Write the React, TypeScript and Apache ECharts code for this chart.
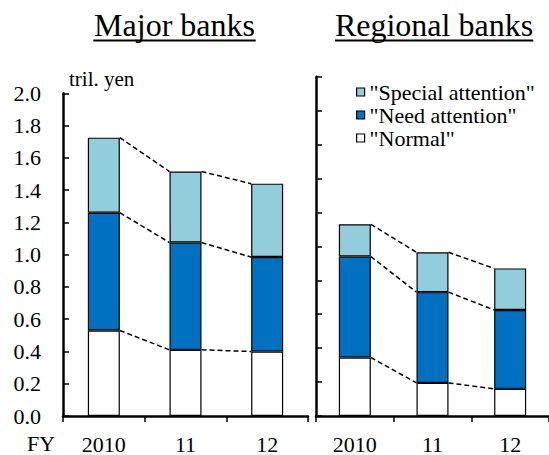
import React, { useEffect, useRef } from "react";
import * as echarts from "echarts";

const categories = ["2010", "11", "12"];
const majorNormal = [0.53, 0.41, 0.4];
const majorNeed = [0.73, 0.665, 0.585];
const majorSpecial = [0.465, 0.44, 0.455];
const regionalNormal = [0.345, 0.195, 0.16];
const regionalNeed = [0.595, 0.535, 0.465];
const regionalSpecial = [0.19, 0.235, 0.245];
const seriesNames = ['"Normal"', '"Need attention"', '"Special attention"'];
const legendOrder = ['"Special attention"', '"Need attention"', '"Normal"'];
const colors = ["#ffffff", "#0070c0", "#92cddc"];

const SERIF = "Liberation Serif";
const BAR_W = 32;

function cumulative(parts: number[][]): number[][] {
  const out: number[][] = [];
  let acc = parts[0].map(() => 0);
  for (const p of parts) {
    acc = acc.map((a, i) => a + p[i]);
    out.push(acc.slice());
  }
  return out;
}

function dashSeries(levels: number[], idx: number) {
  const data = levels.slice(0, -1).map((v, i) => [i, v, levels[i + 1]]);
  return {
    type: "custom",
    name: "conn",
    xAxisIndex: idx,
    yAxisIndex: idx,
    silent: true,
    z: 5,
    encode: { x: 0, y: 1 },
    data,
    renderItem: (params: any, api: any) => {
      const i = api.value(0);
      const p1 = api.coord([i, api.value(1)]);
      const p2 = api.coord([i + 1, api.value(2)]);
      return {
        type: "line",
        shape: { x1: p1[0] + BAR_W / 2, y1: p1[1], x2: p2[0] - BAR_W / 2, y2: p2[1] },
        style: { stroke: "#000", lineWidth: 1.5, lineDash: [5, 3] },
      };
    },
  };
}

function txt(text: string, x: number, y: number, size: number, align: string, lineHeight?: number) {
  return {
    type: "text",
    x,
    y,
    style: {
      text,
      fontFamily: SERIF,
      fontSize: size,
      lineHeight: lineHeight ?? size,
      fill: "#000",
      textAlign: align,
      textVerticalAlign: "middle",
    },
  };
}

export default function App() {
  const ref = useRef<HTMLDivElement>(null);
  useEffect(() => {
    if (!ref.current) return;
    const chart = echarts.init(ref.current, undefined, { renderer: "svg" });
    const majorParts = [majorNormal, majorNeed, majorSpecial];
    const regionalParts = [regionalNormal, regionalNeed, regionalSpecial];
    const majorCum = cumulative(majorParts);
    const regionalCum = cumulative(regionalParts);

    const xAxisBase = {
      type: "category",
      data: categories,
      boundaryGap: true,
      axisLine: { lineStyle: { color: "#000", width: 2.5 } },
      axisTick: { show: true, inside: false, length: 6, lineStyle: { color: "#000", width: 1.5 } },
      axisLabel: { color: "#000", fontFamily: SERIF, fontSize: 22, lineHeight: 16, margin: 20 },
      splitLine: { show: false },
    };
    const yAxisBase = {
      type: "value",
      min: 0,
      max: 2,
      interval: 0.2,
      axisLine: { show: true, lineStyle: { color: "#000", width: 2.5 } },
      axisTick: { show: true, inside: true, length: 6, lineStyle: { color: "#000", width: 1.5 } },
      splitLine: { show: false },
    };

    const barSeries: any[] = [];
    [majorParts, regionalParts].forEach((parts, gi) => {
      parts.forEach((vals, si) => {
        barSeries.push({
          type: "bar",
          name: seriesNames[si],
          stack: gi === 0 ? "major" : "regional",
          xAxisIndex: gi,
          yAxisIndex: gi,
          barWidth: BAR_W,
          data: vals,
          itemStyle: { color: colors[si], borderColor: "#000", borderWidth: 1.2 },
        });
      });
    });

    const option: any = {
      animation: false,
      backgroundColor: "#fff",
      textStyle: { fontFamily: SERIF },
      grid: [
        { left: 63, top: 93.3, width: 245, height: 325.2 },
        { left: 316, top: 76.7, width: 241.5, height: 341.8 },
      ],
      xAxis: [
        { ...xAxisBase, gridIndex: 0 },
        { ...xAxisBase, gridIndex: 1 },
      ],
      yAxis: [
        {
          ...yAxisBase,
          gridIndex: 0,
          axisLabel: {
            color: "#000",
            fontFamily: SERIF,
            fontSize: 22,
            margin: 22,
            formatter: (v: number) => v.toFixed(1),
          },
        },
        { ...yAxisBase, gridIndex: 1, axisLabel: { show: false } },
      ],
      legend: {
        data: legendOrder,
        orient: "vertical",
        left: 351,
        top: 76,
        itemWidth: 8,
        itemHeight: 8,
        itemGap: 1,
        icon: "rect",
        itemStyle: { borderColor: "#000", borderWidth: 1.2 },
        textStyle: { color: "#000", fontFamily: SERIF, fontSize: 22 },
        selectedMode: false,
      },
      graphic: [
        txt("Major banks", 174.5, 25, 32, "center"),
        { type: "line", shape: { x1: 93.3, y1: 40.5, x2: 255.7, y2: 40.5 }, style: { stroke: "#000", lineWidth: 2 } },
        txt("Regional banks", 434, 25, 32, "center"),
        { type: "line", shape: { x1: 335, y1: 40.5, x2: 533.3, y2: 40.5 }, style: { stroke: "#000", lineWidth: 2 } },
        txt("tril. yen", 69, 79, 21, "left"),
        txt("FY", 27, 443, 22, "left", 16),
      ],
      series: [
        ...barSeries,
        ...majorCum.map((lv) => dashSeries(lv, 0)),
        ...regionalCum.map((lv) => dashSeries(lv, 1)),
      ],
    };
    chart.setOption(option);
    return () => chart.dispose();
  }, []);
  return <div ref={ref} style={{ position: "fixed", left: 0, top: 0, width: 549, height: 455 }} />;
}
